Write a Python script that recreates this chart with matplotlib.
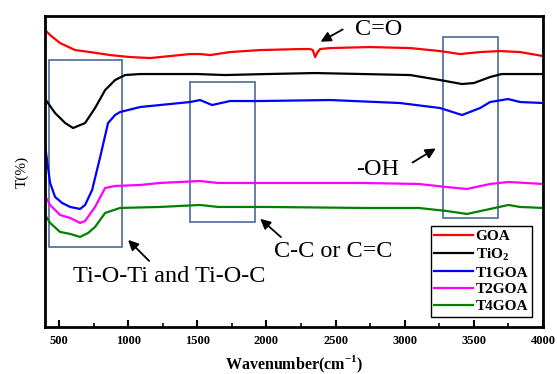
# FTIR spectra of GOA, TiO2 and the TxGOA composites

import numpy as np
import matplotlib.pyplot as plt
from matplotlib.patches import Rectangle
from matplotlib.ticker import MultipleLocator

plt.rcParams['font.family'] = ['Liberation Serif', 'DejaVu Serif']
plt.rcParams['mathtext.fontset'] = 'custom'
plt.rcParams['mathtext.rm'] = 'Liberation Serif'
plt.rcParams['mathtext.bf'] = 'Liberation Serif:bold'

# Data (wavenumber, transmittance in arbitrary units)
goa_wn = [400, 436, 508, 617, 725, 870, 1014, 1159, 1304, 1448, 1520, 1593, 1737, 1954,
          2243, 2316, 2335, 2352, 2370, 2388, 2460, 2749, 3039, 3255, 3400, 3545, 3689, 3834, 4000]
goa_t = [297, 292, 284, 277, 275, 272, 270, 269, 271, 273, 273, 272, 275, 277,
         278, 278, 277, 270, 275, 278, 279, 280, 279, 276, 273, 275, 276, 275, 271]

tio2_wn = [400, 472, 545, 602, 689, 761, 834, 906, 978, 1087, 1500, 1700, 2000, 2350,
           2700, 3039, 3255, 3414, 3500, 3617, 3700, 4000]
tio2_t = [228, 214, 204, 199, 204, 219, 237, 247, 252, 253, 253, 252, 253, 254,
          253, 252, 247, 243, 244, 250, 253, 253]

t1_wn = [400, 436, 472, 523, 581, 653, 689, 740, 798, 855, 906, 942, 1087, 1231,
         1448, 1520, 1607, 1737, 1954, 2460, 2966, 3255, 3414, 3545, 3617, 3747, 3834, 4000]
t1_t = [181, 144, 130, 124, 120, 118, 122, 137, 170, 204, 212, 215, 220, 222,
        225, 227, 222, 226, 226, 227, 224, 219, 212, 219, 225, 228, 225, 224]

t2_wn = [400, 436, 508, 581, 653, 689, 761, 834, 906, 1087, 1231, 1520, 1650, 2000,
         2700, 3100, 3300, 3450, 3617, 3750, 4000]
t2_t = [131, 122, 112, 109, 104, 106, 120, 139, 141, 142, 144, 146, 144, 144,
        144, 143, 140, 138, 143, 145, 143]

t4_wn = [400, 436, 508, 581, 653, 711, 761, 834, 942, 1231, 1520, 1650, 2000, 2700,
         3100, 3300, 3450, 3617, 3750, 3834, 4000]
t4_t = [112, 104, 95, 93, 90, 94, 100, 114, 119, 120, 122, 120, 120, 119,
        119, 116, 113, 118, 122, 120, 119]

names = ['GOA', r'TiO$_\mathbf{2}$', 'T1GOA', 'T2GOA', 'T4GOA']
colors = ['#ff0000', '#000000', '#0000ff', '#ff00ff', '#008000']

# highlighted regions: (wn start, wn end, T low, T high)
boxes = [(429, 957, 80, 267), (1448, 1918, 105, 245), (3277, 3675, 109, 290)]

fig = plt.figure(figsize=(5.57, 3.74), dpi=100)
ax = fig.add_axes([0.081, 0.126, 0.894, 0.831])

series = [(goa_wn, goa_t), (tio2_wn, tio2_t), (t1_wn, t1_t), (t2_wn, t2_t), (t4_wn, t4_t)]
for (wn, t), name, c in zip(series, names, colors):
    ax.plot(wn, t, color=c, lw=1.6, label=name)

for x0, x1, y0, y1 in boxes:
    ax.add_patch(Rectangle((x0, y0), x1 - x0, y1 - y0, fill=False,
                           edgecolor='#4a6a9c', lw=1.2))

arrow = dict(arrowstyle='-|>', color='black', lw=1.3, mutation_scale=15)
ax.annotate('', xy=(2374, 284), xytext=(2569, 299), arrowprops=arrow)
ax.text(2814, 298, 'C=O', fontsize=17.5, ha='center', va='center')
ax.annotate('', xy=(3241, 180), xytext=(3039, 163), arrowprops=arrow)
ax.text(2807, 157, '-OH', fontsize=17.5, ha='center', va='center')
ax.annotate('', xy=(1940, 110), xytext=(2120, 88), arrowprops=arrow)
ax.text(2482, 75, 'C-C or C=C', fontsize=17.5, ha='center', va='center')
ax.annotate('', xy=(986, 89), xytext=(1166, 64), arrowprops=arrow)
ax.text(1296, 50, 'Ti-O-Ti and Ti-O-C', fontsize=17.5, ha='center', va='center')

ax.set_xlim(400, 4000)
ax.set_ylim(0, 311)
ax.set_yticks([])
ax.xaxis.set_major_locator(MultipleLocator(500))
ax.xaxis.set_minor_locator(MultipleLocator(250))
ax.tick_params(axis='x', which='major', direction='in', length=5, width=1.5, pad=6)
ax.tick_params(axis='x', which='minor', direction='in', length=3, width=1.2)
for lab in ax.get_xticklabels():
    lab.set_fontweight('bold')
    lab.set_fontsize(9)
for s in ax.spines.values():
    s.set_linewidth(2)

ax.set_xlabel(r'Wavenumber(cm$^\mathbf{-1}$)', fontsize=11.5, fontweight='bold', labelpad=5)
ax.set_ylabel('T(%)', fontsize=11, labelpad=12)

leg = ax.legend(loc='lower right', bbox_to_anchor=(0.978, 0.032), borderaxespad=0,
                fancybox=False, edgecolor='black', framealpha=1, handlelength=2.5,
                handletextpad=0.2, labelspacing=0.2, borderpad=0.25,
                prop={'weight': 'bold', 'size': 11})
leg.get_frame().set_linewidth(1.0)

fig.savefig('out.png', dpi=100)
